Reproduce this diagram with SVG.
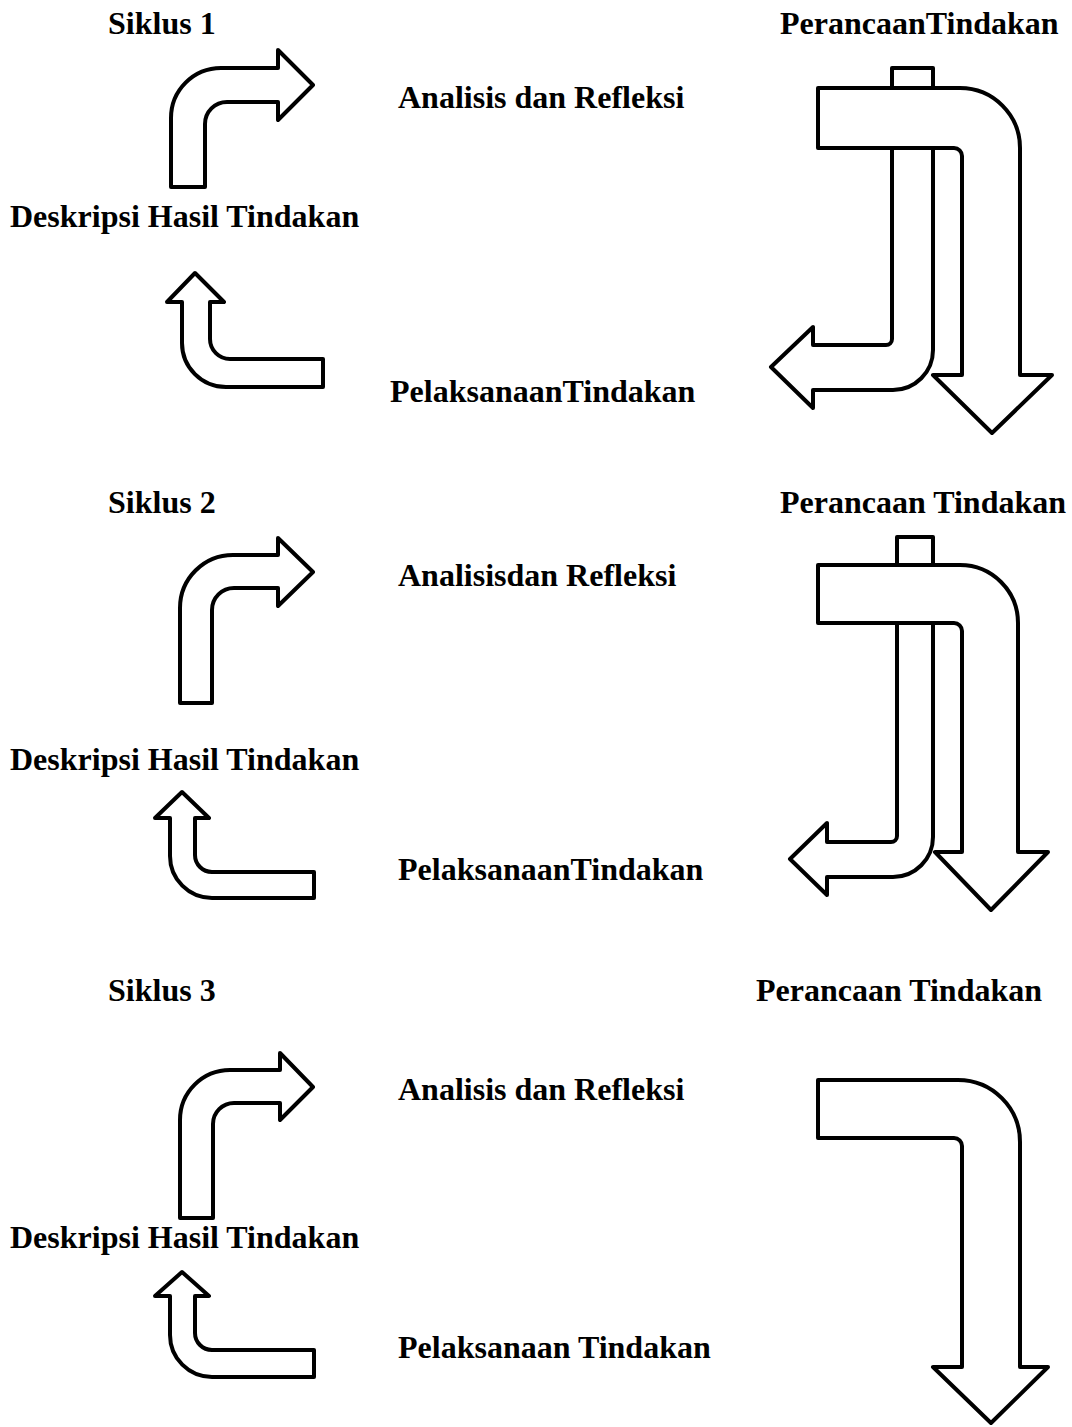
<svg xmlns="http://www.w3.org/2000/svg" width="1072" height="1427" viewBox="0 0 1072 1427">
<style>
.t{font-family:"Liberation Serif","Times New Roman",serif;font-weight:bold;font-size:32px;fill:#000}
.s{fill:#fff;stroke:#000;stroke-width:4;stroke-linejoin:round}
</style>
<rect width="1072" height="1427" fill="#fff"/>
<g id="nodes">
<g id="c1-title"><text class="t" x="108" y="34">Siklus 1</text></g>
<g id="c1-perancaan"><text class="t" x="780" y="34">PerancaanTindakan</text></g>
<g id="c1-analisis"><text class="t" x="398" y="108">Analisis dan Refleksi</text></g>
<g id="c1-deskripsi"><text class="t" x="10" y="227">Deskripsi Hasil Tindakan</text></g>
<g id="c1-pelaksanaan"><text class="t" x="390" y="402">PelaksanaanTindakan</text></g>
<g id="c2-title"><text class="t" x="108" y="513">Siklus 2</text></g>
<g id="c2-perancaan"><text class="t" x="780" y="513">Perancaan Tindakan</text></g>
<g id="c2-analisis"><text class="t" x="398" y="586">Analisisdan Refleksi</text></g>
<g id="c2-deskripsi"><text class="t" x="10" y="770">Deskripsi Hasil Tindakan</text></g>
<g id="c2-pelaksanaan"><text class="t" x="398" y="880">PelaksanaanTindakan</text></g>
<g id="c3-title"><text class="t" x="108" y="1001">Siklus 3</text></g>
<g id="c3-perancaan"><text class="t" x="756" y="1001">Perancaan Tindakan</text></g>
<g id="c3-analisis"><text class="t" x="398" y="1100">Analisis dan Refleksi</text></g>
<g id="c3-deskripsi"><text class="t" x="10" y="1248">Deskripsi Hasil Tindakan</text></g>
<g id="c3-pelaksanaan"><text class="t" x="398" y="1358">Pelaksanaan Tindakan</text></g>
</g>
<g id="connectors">
<path class="s" d="M171,187 L171,118 A50,50 0 0 1 221,68 L278,68 L278,50 L313,85 L278,120 L278,102 L227,102 A22,22 0 0 0 205,124 L205,187 Z"/>
<path class="s" d="M195,273 L224,302 L210,302 L210,339 A20,20 0 0 0 230,359 L323,359 L323,387 L226,387 A44,44 0 0 1 182,343 L182,302 L167,302 Z"/>
<path class="s" d="M892,68 L933,68 L933,350 A40,40 0 0 1 893,390 L813,390 L813,408 L771,367 L813,327 L813,345 L886,345 A6,6 0 0 0 892,339 Z"/>
<path class="s" d="M818,88 L960,88 A60,60 0 0 1 1020,148 L1020,375 L1052,375 L992,433 L933,375 L962,375 L962,156 A8,8 0 0 0 954,148 L818,148 Z"/>

<path class="s" d="M180,703 L180,608 A53,53 0 0 1 233,555 L278,555 L278,538 L313,572 L278,606 L278,588 L234,588 A22,22 0 0 0 212,610 L212,703 Z"/>
<path class="s" d="M182,792 L209,818 L195,818 L195,855 A17,17 0 0 0 212,872 L314,872 L314,898 L212,898 A42,42 0 0 1 170,856 L170,818 L155,818 Z"/>
<path class="s" d="M897,537 L933,537 L933,837 A40,40 0 0 1 893,877 L827,877 L827,895 L790,859 L827,823 L827,842 L891,842 A6,6 0 0 0 897,836 Z"/>
<path class="s" d="M818,565 L960,565 A58,58 0 0 1 1018,623 L1018,852 L1048,852 L991,910 L935,852 L962,852 L962,631 A8,8 0 0 0 954,623 L818,623 Z"/>

<path class="s" d="M180,1218 L180,1120 A50,50 0 0 1 230,1070 L280,1070 L280,1053 L313,1087 L280,1120 L280,1103 L234,1103 A21,21 0 0 0 213,1124 L213,1218 Z"/>
<path class="s" d="M182,1272 L209,1296 L195,1296 L195,1333 A17,17 0 0 0 212,1350 L314,1350 L314,1377 L212,1377 A42,42 0 0 1 170,1335 L170,1296 L155,1296 Z"/>
<path class="s" d="M818,1080 L958,1080 A62,62 0 0 1 1020,1142 L1020,1367 L1048,1367 L991,1423 L933,1367 L962,1367 L962,1146 A8,8 0 0 0 954,1138 L818,1138 Z"/>
</g>
</svg>
